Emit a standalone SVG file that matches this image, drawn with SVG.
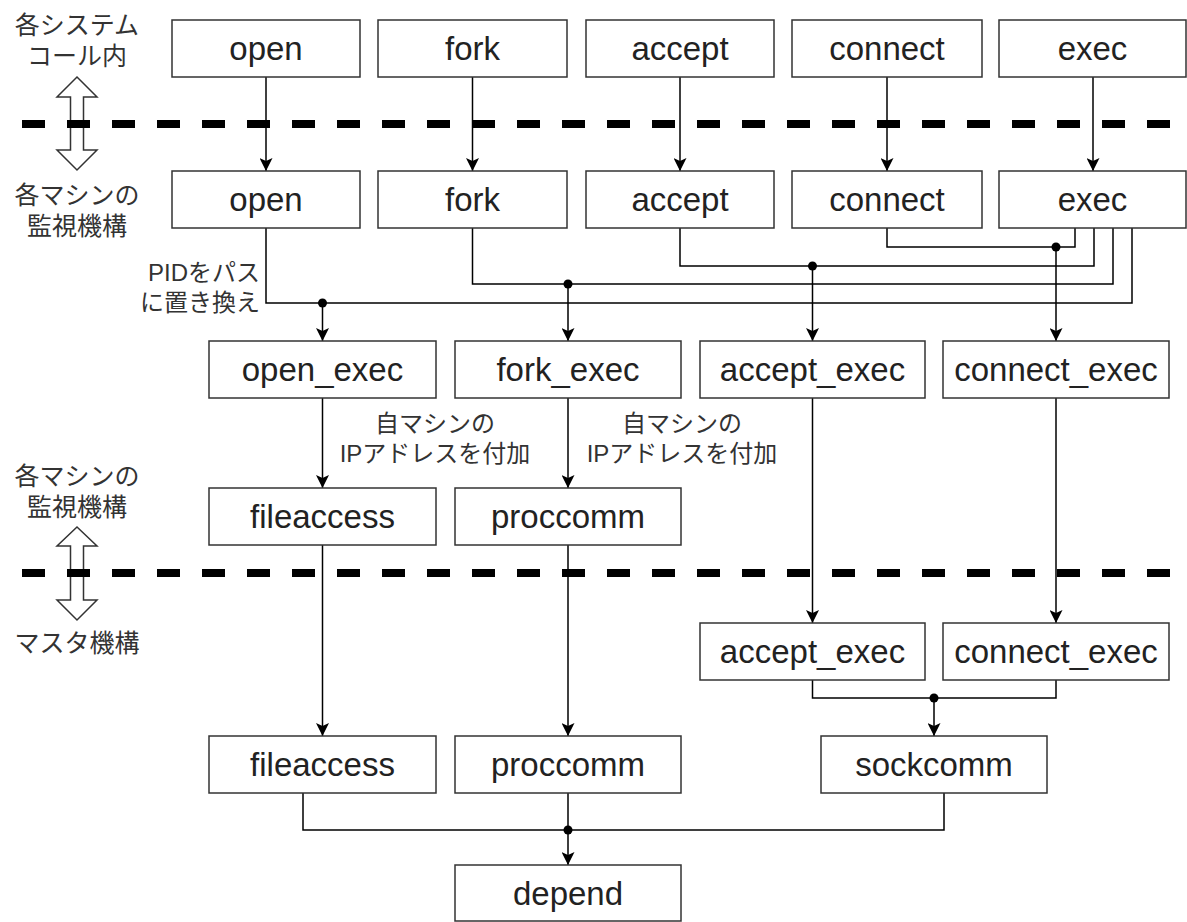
<svg xmlns="http://www.w3.org/2000/svg" width="1187" height="922" viewBox="0 0 1187 922">
<style>
.box rect{fill:#fff;stroke:#333;stroke-width:1.5}
.box text{font-family:"Liberation Sans",Arial,sans-serif;font-size:33px;fill:#222;text-anchor:middle}
.lbl{font-family:"Liberation Sans","Noto Sans CJK JP",sans-serif;font-size:24px;fill:#333}
.side{font-family:"Liberation Sans","Noto Sans CJK JP",sans-serif;font-size:25px;fill:#333;text-anchor:middle}
.dash{stroke:#000;stroke-width:8;stroke-dasharray:23 22;fill:none}
.harrow{fill:#fff;stroke:#333;stroke-width:1.5}
#connectors path{fill:none;stroke:#000;stroke-width:1.5}
#connectors path.arr{marker-end:url(#ah)}
#connectors circle{fill:#000}
</style>
<defs>
<marker id="ah" markerUnits="userSpaceOnUse" markerWidth="14" markerHeight="13" refX="13" refY="6.5" orient="auto">
<path d="M0,0 L13,6.5 L0,13 L3,6.5 Z" fill="#000"/>
</marker>
</defs>
<rect width="1187" height="922" fill="#fff"/>

<g id="side">
<polygon class="harrow" points="77,77 97,97 83.5,97 83.5,150 97,150 77,170 57,150 70.5,150 70.5,97 57,97"/>
<polygon class="harrow" points="77,527 97,546 83.5,546 83.5,600 97,600 77,620 57,600 70.5,600 70.5,546 57,546"/>
<text class="side" x="77" y="34">各システム<tspan x="77" dy="31">コール内</tspan></text>
<text class="side" x="77" y="204">各マシンの<tspan x="77" dy="31">監視機構</tspan></text>
<text class="side" x="77" y="485">各マシンの<tspan x="77" dy="31">監視機構</tspan></text>
<text class="side" x="77" y="652">マスタ機構</text>
</g>

<line class="dash" x1="22" y1="124" x2="1187" y2="124"/>
<line class="dash" x1="22" y1="573" x2="1187" y2="573"/>

<g id="connectors">
<path class="arr" d="M266,77 V171"/>
<path class="arr" d="M472.5,77 V171"/>
<path class="arr" d="M680,77 V171"/>
<path class="arr" d="M887,77 V171"/>
<path class="arr" d="M1093,77 V171"/>

<path class="arr" d="M266,228 V303 H322.5 V341"/>
<path d="M1132,228 V303 H322.5"/>
<circle cx="322.5" cy="303" r="4.5"/>
<path class="arr" d="M472.5,228 V284 H568 V341"/>
<path d="M1113,228 V284 H568"/>
<circle cx="568" cy="284" r="4.5"/>
<path class="arr" d="M680,228 V266 H812.5 V341"/>
<path d="M1094,228 V266 H812.5"/>
<circle cx="812.5" cy="266" r="4.5"/>
<path class="arr" d="M887,228 V247 H1056 V341"/>
<path d="M1075,228 V247 H1056"/>
<circle cx="1056" cy="247" r="4.5"/>

<path class="arr" d="M322.5,398 V488"/>
<path class="arr" d="M568,398 V488"/>
<path class="arr" d="M322.5,545 V736"/>
<path class="arr" d="M568,545 V736"/>
<path class="arr" d="M812.5,398 V623"/>
<path class="arr" d="M1056,398 V623"/>

<path class="arr" d="M812.5,680 V698 H934 V736"/>
<path d="M1056,680 V698 H934"/>
<circle cx="934" cy="698" r="4.5"/>

<path class="arr" d="M303,793 V830 H568 V865"/>
<path d="M568,793 V830"/>
<path d="M944,793 V830 H568"/>
<circle cx="568" cy="830" r="4.5"/>
</g>

<text class="lbl" text-anchor="end" x="260" y="281">PIDをパス<tspan x="260" dy="30">に置き換え</tspan></text>
<text class="lbl" text-anchor="middle" x="435" y="432">自マシンの<tspan x="435" dy="30">IPアドレスを付加</tspan></text>
<text class="lbl" text-anchor="middle" x="682" y="432">自マシンの<tspan x="682" dy="30">IPアドレスを付加</tspan></text>

<g id="n_open1" class="box"><rect x="172" y="20" width="188" height="57"/><text x="266" y="60">open</text></g>
<g id="n_fork1" class="box"><rect x="378" y="20" width="189" height="57"/><text x="472.5" y="60">fork</text></g>
<g id="n_accept1" class="box"><rect x="586" y="20" width="188" height="57"/><text x="680" y="60">accept</text></g>
<g id="n_connect1" class="box"><rect x="792" y="20" width="190" height="57"/><text x="887" y="60">connect</text></g>
<g id="n_exec1" class="box"><rect x="999" y="20" width="187" height="57"/><text x="1092.5" y="60">exec</text></g>

<g id="n_open2" class="box"><rect x="172" y="171" width="188" height="57"/><text x="266" y="211">open</text></g>
<g id="n_fork2" class="box"><rect x="378" y="171" width="189" height="57"/><text x="472.5" y="211">fork</text></g>
<g id="n_accept2" class="box"><rect x="586" y="171" width="188" height="57"/><text x="680" y="211">accept</text></g>
<g id="n_connect2" class="box"><rect x="792" y="171" width="190" height="57"/><text x="887" y="211">connect</text></g>
<g id="n_exec2" class="box"><rect x="999" y="171" width="187" height="57"/><text x="1092.5" y="211">exec</text></g>

<g id="n_open_exec" class="box"><rect x="209" y="341" width="227" height="57"/><text x="322.5" y="381">open_exec</text></g>
<g id="n_fork_exec" class="box"><rect x="455" y="341" width="226" height="57"/><text x="568" y="381">fork_exec</text></g>
<g id="n_accept_exec1" class="box"><rect x="700" y="341" width="225" height="57"/><text x="812.5" y="381">accept_exec</text></g>
<g id="n_connect_exec1" class="box"><rect x="943" y="341" width="226" height="57"/><text x="1056" y="381">connect_exec</text></g>

<g id="n_fileaccess1" class="box"><rect x="209" y="488" width="227" height="57"/><text x="322.5" y="528">fileaccess</text></g>
<g id="n_proccomm1" class="box"><rect x="455" y="488" width="226" height="57"/><text x="568" y="528">proccomm</text></g>

<g id="n_accept_exec2" class="box"><rect x="700" y="623" width="225" height="57"/><text x="812.5" y="663">accept_exec</text></g>
<g id="n_connect_exec2" class="box"><rect x="943" y="623" width="226" height="57"/><text x="1056" y="663">connect_exec</text></g>

<g id="n_fileaccess2" class="box"><rect x="209" y="736" width="227" height="57"/><text x="322.5" y="776">fileaccess</text></g>
<g id="n_proccomm2" class="box"><rect x="455" y="736" width="226" height="57"/><text x="568" y="776">proccomm</text></g>
<g id="n_sockcomm" class="box"><rect x="821" y="736" width="226" height="57"/><text x="934" y="776">sockcomm</text></g>

<g id="n_depend" class="box"><rect x="455" y="865" width="226" height="56"/><text x="568" y="905">depend</text></g>
</svg>
